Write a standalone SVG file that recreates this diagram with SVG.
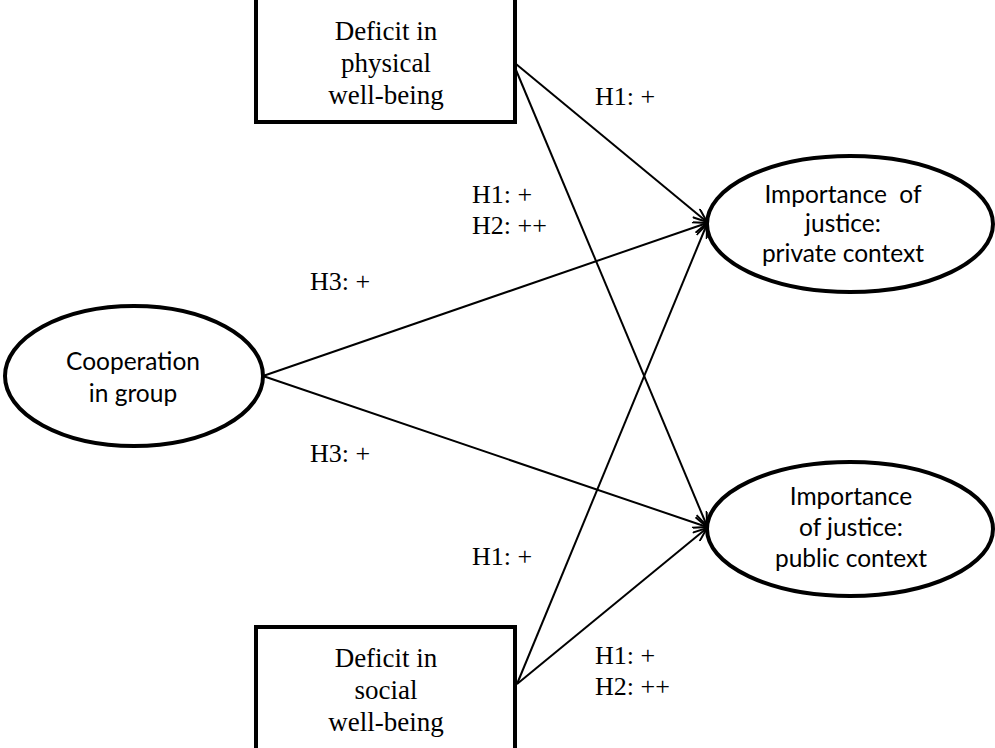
<svg xmlns="http://www.w3.org/2000/svg" width="995" height="748" viewBox="0 0 995 748">
<style>
.box{fill:#fff;stroke:#000;stroke-width:4}
.ell{fill:#fff;stroke:#000;stroke-width:4}
.serif{font-family:"Liberation Serif","Times New Roman",serif;font-size:27px;fill:#000}
.sans{font-family:Lato,"Liberation Sans",sans-serif;font-size:24.5px;fill:#000}
.lbl{font-family:"Liberation Serif","Times New Roman",serif;font-size:26px;fill:#000}
.edge{stroke:#000;stroke-width:2;fill:none;marker-end:url(#arr)}
</style>
<defs>
<marker id="arr" viewBox="0 0 16 12" refX="15" refY="6" markerWidth="16" markerHeight="12" markerUnits="userSpaceOnUse" orient="auto">
<polyline points="1,0.5 15,6 1,11.5" fill="none" stroke="#000" stroke-width="2"/>
</marker>
</defs>
<rect width="995" height="748" fill="#fff"/>
<g id="connectors">
<line class="edge" x1="516" y1="64" x2="707" y2="222"/>
<line class="edge" x1="516" y1="70" x2="707" y2="526"/>
<line class="edge" x1="263" y1="376" x2="707" y2="223"/>
<line class="edge" x1="263" y1="376" x2="707" y2="527"/>
<line class="edge" x1="517" y1="684" x2="707" y2="224"/>
<line class="edge" x1="517" y1="684" x2="707" y2="528"/>
<text class="lbl" x="595" y="105">H1: +</text>
<text class="lbl" x="472" y="203">H1: +</text>
<text class="lbl" x="472" y="234">H2: ++</text>
<text class="lbl" x="310" y="290">H3: +</text>
<text class="lbl" x="310" y="462">H3: +</text>
<text class="lbl" x="472" y="565">H1: +</text>
<text class="lbl" x="595" y="664">H1: +</text>
<text class="lbl" x="595" y="695">H2: ++</text>
</g>
<g id="physical">
<rect class="box" x="256" y="-2" width="259" height="124"/>
<text class="serif" text-anchor="middle" x="386" y="40">Deficit in</text>
<text class="serif" text-anchor="middle" x="386" y="72">physical</text>
<text class="serif" text-anchor="middle" x="386" y="104">well-being</text>
</g>
<g id="social">
<rect class="box" x="256" y="627" width="259" height="124"/>
<text class="serif" text-anchor="middle" x="386" y="667">Deficit in</text>
<text class="serif" text-anchor="middle" x="386" y="699">social</text>
<text class="serif" text-anchor="middle" x="386" y="731">well-being</text>
</g>
<g id="cooperation">
<ellipse class="ell" cx="134" cy="376" rx="129" ry="70"/>
<text class="sans" text-anchor="middle" x="133" y="370">Cooperation</text>
<text class="sans" text-anchor="middle" x="133" y="402">in group</text>
</g>
<g id="private">
<ellipse class="ell" cx="850" cy="224" rx="143" ry="68"/>
<text class="sans" text-anchor="middle" x="843" y="203" xml:space="preserve">Importance  of</text>
<text class="sans" text-anchor="middle" x="843" y="232">justice:</text>
<text class="sans" text-anchor="middle" x="843" y="262">private context</text>
</g>
<g id="public">
<ellipse class="ell" cx="850" cy="529" rx="143" ry="67"/>
<text class="sans" text-anchor="middle" x="851" y="505">Importance</text>
<text class="sans" text-anchor="middle" x="851" y="536">of justice:</text>
<text class="sans" text-anchor="middle" x="851" y="567">public context</text>
</g>
</svg>
